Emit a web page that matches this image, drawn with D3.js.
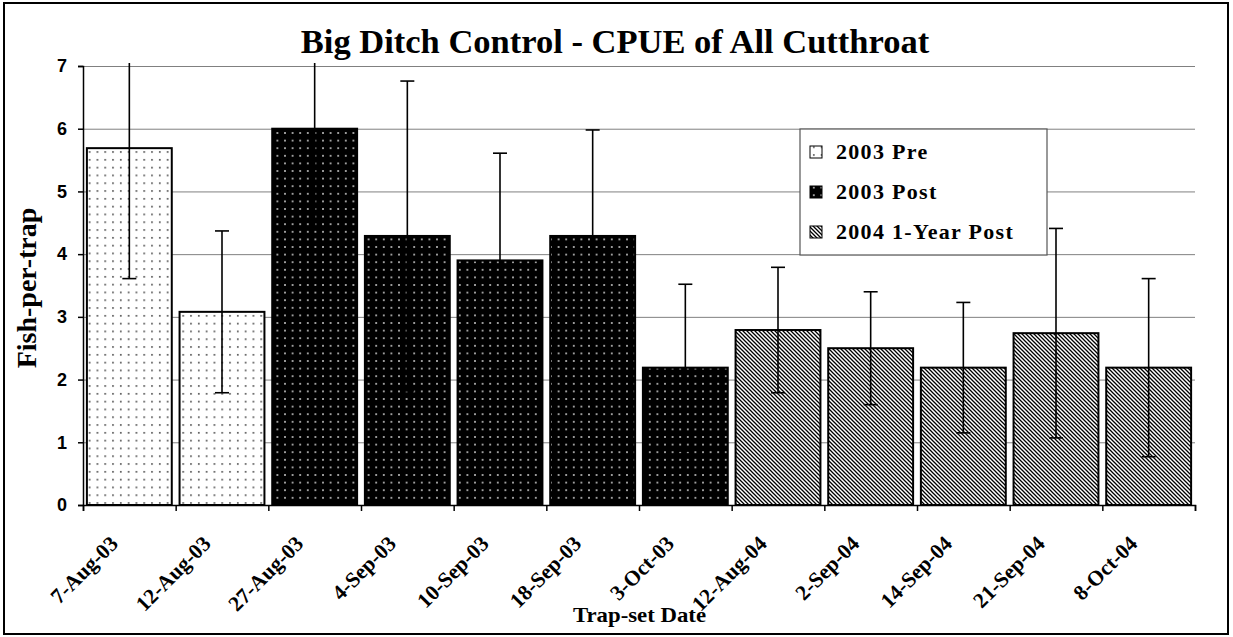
<!DOCTYPE html>
<html>
<head>
<meta charset="utf-8">
<script src="https://cdn.jsdelivr.net/npm/d3@7"></script>
<style>
  body { margin: 0; background: #fff; }
  svg { display: block; }
</style>
</head>
<body>
<div class="chartContainer"></div>
<script>
// Chart data
const dates = ["7-Aug-03", "12-Aug-03", "27-Aug-03", "4-Sep-03", "10-Sep-03", "18-Sep-03",
               "3-Oct-03", "12-Aug-04", "2-Sep-04", "14-Sep-04", "21-Sep-04", "8-Oct-04"];
const periods = ["2003 Pre", "2003 Pre", "2003 Post", "2003 Post", "2003 Post", "2003 Post",
                 "2003 Post", "2004 1-Year Post", "2004 1-Year Post", "2004 1-Year Post",
                 "2004 1-Year Post", "2004 1-Year Post"];
const cpue = [5.69, 3.08, 6.0, 4.29, 3.9, 4.29, 2.19, 2.79, 2.5, 2.19, 2.74, 2.19];
const errors = [2.08, 1.29, 1.6, 2.47, 1.71, 1.69, 1.33, 1.0, 0.9, 1.04, 1.67, 1.42];
const legendNames = ["2003 Pre", "2003 Post", "2004 1-Year Post"];
const yTicks = [0, 1, 2, 3, 4, 5, 6, 7];

// Size and plot area
const w = 1233;
const h = 637;
const pLeft = 83, pRight = 1195, pTop = 66, pBottom = 505;
const serif = "'Liberation Serif', 'Times New Roman', serif";

const svg = d3.select(".chartContainer").append("svg")
  .attr("width", w)
  .attr("height", h);

// fill patterns for the three periods
const defs = svg.append("defs");

const pre = defs.append("pattern").attr("id", "pat0")
  .attr("patternUnits", "userSpaceOnUse").attr("width", 7.8).attr("height", 7.8);
pre.append("rect").attr("width", 7.8).attr("height", 7.8).attr("fill", "#fff");
pre.append("rect").attr("x", 3).attr("y", 3).attr("width", 1.6).attr("height", 1.6).attr("fill", "#444");

const post = defs.append("pattern").attr("id", "pat1")
  .attr("patternUnits", "userSpaceOnUse").attr("width", 7.6).attr("height", 7.6);
post.append("rect").attr("width", 7.6).attr("height", 7.6).attr("fill", "#000");
post.append("rect").attr("x", 3).attr("y", 3).attr("width", 1.6).attr("height", 1.6).attr("fill", "#ddd");

const hatch = defs.append("pattern").attr("id", "pat2")
  .attr("patternUnits", "userSpaceOnUse").attr("width", 4).attr("height", 4);
hatch.append("rect").attr("width", 4).attr("height", 4).attr("fill", "#fff");
hatch.append("path").attr("d", "M-1,-1L5,5M3,-1L5,1M-1,3L1,5")
  .attr("stroke", "#000").attr("stroke-width", 1.3);

defs.append("clipPath").attr("id", "plotClip")
  .append("rect").attr("x", pLeft - 10).attr("y", pTop - 3)
  .attr("width", pRight - pLeft + 20).attr("height", pBottom - pTop + 10);

const fillFor = p => "url(#pat" + legendNames.indexOf(p) + ")";

// outer border
svg.append("rect")
  .attr("x", 4).attr("y", 3).attr("width", 1224).attr("height", 631)
  .attr("fill", "none").attr("stroke", "#000").attr("stroke-width", 2);

// Scales
const xScale = d3.scaleBand().domain(dates).range([pLeft, pRight]).padding(0);
const xEdges = d3.scaleLinear().domain([0, dates.length]).range([pLeft, pRight]);
const yScale = d3.scaleLinear().domain([0, 7]).range([pBottom, pTop]);

// gridlines
svg.append("g")
  .attr("transform", "translate(" + pLeft + ",0)")
  .call(d3.axisLeft(yScale).tickValues(yTicks.slice(1)).tickSize(-(pRight - pLeft)).tickFormat(""))
  .call(g => g.select(".domain").remove())
  .call(g => g.selectAll("line").attr("stroke", "#808080").attr("stroke-width", 1));

// bars
const bw = xScale.bandwidth();
svg.append("g").selectAll("rect")
  .data(dates)
  .join("rect")
  .attr("x", d => xScale(d) + bw * 0.042)
  .attr("y", (d, i) => yScale(cpue[i]))
  .attr("width", bw * 0.916)
  .attr("height", (d, i) => pBottom - yScale(cpue[i]))
  .attr("fill", (d, i) => fillFor(periods[i]))
  .attr("stroke", "#000")
  .attr("stroke-width", 2);

// error bars
const eb = svg.append("g").attr("clip-path", "url(#plotClip)")
  .attr("stroke", "#000").attr("stroke-width", 1.6);
dates.forEach((d, i) => {
  const cx = xScale(d) + bw / 2;
  const hi = yScale(cpue[i] + errors[i]);
  const lo = yScale(cpue[i] - errors[i]);
  eb.append("line").attr("x1", cx).attr("x2", cx).attr("y1", hi).attr("y2", lo);
  eb.append("line").attr("x1", cx - 7).attr("x2", cx + 7).attr("y1", hi).attr("y2", hi);
  eb.append("line").attr("x1", cx - 7).attr("x2", cx + 7).attr("y1", lo).attr("y2", lo);
});

// y axis
svg.append("g")
  .attr("transform", "translate(" + pLeft + ",0)")
  .call(d3.axisLeft(yScale).tickValues(yTicks).tickSize(5).tickPadding(11).tickFormat(d3.format("d")))
  .call(g => g.select(".domain").attr("stroke", "#000").attr("stroke-width", 1.5))
  .call(g => g.selectAll("line").attr("stroke", "#000").attr("stroke-width", 1.5))
  .call(g => g.selectAll("text")
    .attr("font-family", "'Liberation Sans', Arial, sans-serif")
    .attr("font-weight", "bold").attr("font-size", 18).attr("fill", "#000"));

// x axis with ticks on the category edges
svg.append("g")
  .attr("transform", "translate(0," + pBottom + ")")
  .call(d3.axisBottom(xEdges).tickValues(d3.range(dates.length + 1)).tickSize(6).tickFormat(""))
  .call(g => g.select(".domain").attr("stroke", "#000").attr("stroke-width", 1.5))
  .call(g => g.selectAll("line").attr("stroke", "#000").attr("stroke-width", 1.5));

// rotated date labels
svg.append("g").selectAll("text")
  .data(dates)
  .join("text")
  .attr("transform", d => {
    const tx = xScale(d) + bw / 2 - 10, ty = 545;
    return "translate(" + tx + "," + ty + ") rotate(-45)";
  })
  .attr("text-anchor", "end")
  .attr("font-family", serif)
  .attr("font-weight", "bold")
  .attr("font-size", 21.5)
  .text(d => d);

// titles
svg.append("text")
  .attr("x", 615).attr("y", 53)
  .attr("text-anchor", "middle")
  .attr("font-family", serif)
  .attr("font-weight", "bold").attr("font-size", 34.5)
  .text("Big Ditch Control - CPUE of All Cutthroat");

svg.append("text")
  .attr("transform", "translate(36,288) rotate(-90)")
  .attr("text-anchor", "middle")
  .attr("font-family", serif)
  .attr("font-weight", "bold").attr("font-size", 28)
  .text("Fish-per-trap");

svg.append("text")
  .attr("x", 573).attr("y", 622)
  .attr("textLength", 133)
  .attr("lengthAdjust", "spacingAndGlyphs")
  .attr("font-family", serif)
  .attr("font-weight", "bold").attr("font-size", 22)
  .text("Trap-set Date");

// legend
const legend = svg.append("g").attr("transform", "translate(800,129)");
legend.append("rect")
  .attr("width", 247).attr("height", 126)
  .attr("fill", "#fff").attr("stroke", "#555").attr("stroke-width", 1.2);
const item = legend.selectAll("g.item")
  .data(legendNames)
  .join("g")
  .attr("class", "item")
  .attr("transform", (d, i) => "translate(10," + (30 + i * 40) + ")");
item.append("rect")
  .attr("x", 0).attr("y", -13).attr("width", 12).attr("height", 12)
  .attr("fill", d => fillFor(d)).attr("stroke", "#000").attr("stroke-width", 1);
item.append("text")
  .attr("x", 26).attr("y", 0)
  .attr("font-family", serif)
  .attr("font-weight", "bold").attr("font-size", 22)
  .attr("letter-spacing", 1.3)
  .text(d => d);
</script>
</body>
</html>
